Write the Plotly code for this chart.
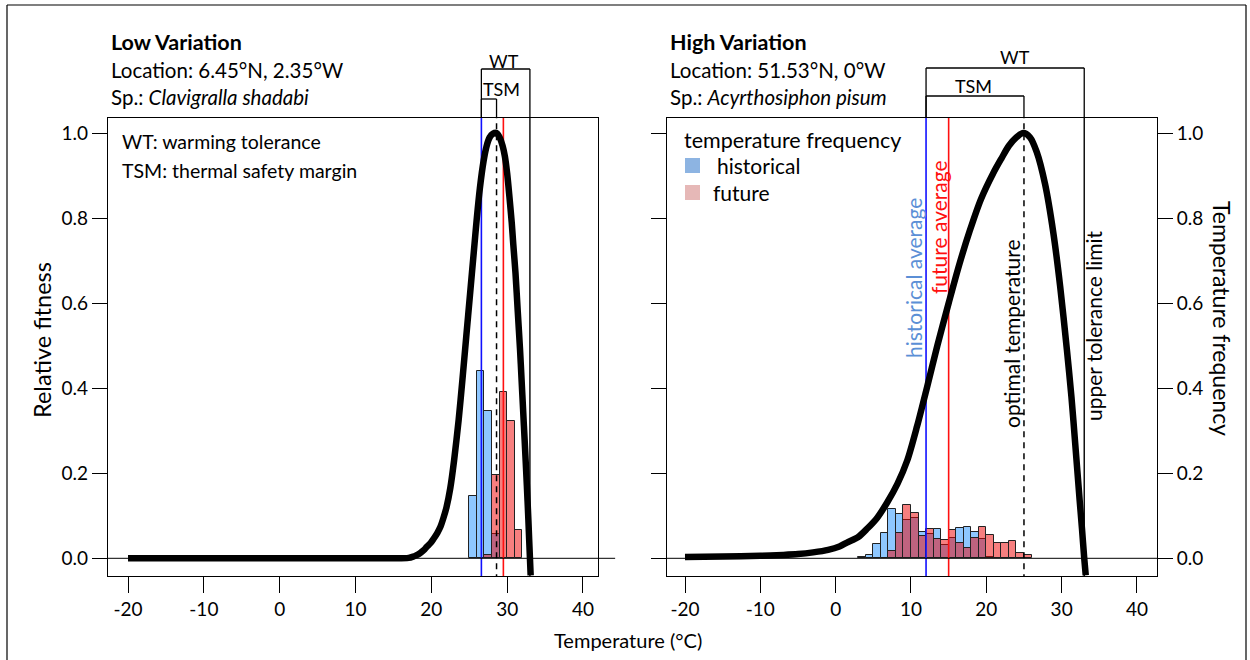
import plotly.graph_objects as go

W, H = 1250, 660

# ---------------- data ----------------
x_ticks = [-20, -10, 0, 10, 20, 30, 40]
x_tick_text = ["-20", "-10", "0", "10", "20", "30", "40"]
y_ticks = [0.0, 0.2, 0.4, 0.6, 0.8, 1.0]
y_tick_text = ["0.0", "0.2", "0.4", "0.6", "0.8", "1.0"]

# Low variation panel (Clavigralla shadabi)
low_curve_t = [-20, -10, 0, 10, 15, 17.0, 17.6, 18.0, 18.5, 19.0, 19.4, 19.9, 20.3, 20.8, 21.2,
               21.6, 22.0, 22.5, 23.0, 23.6, 24.1, 24.6, 25.1, 25.6, 26.0, 26.4, 26.9, 27.3,
               27.7, 28.1, 28.6, 29.0, 29.4, 29.7, 30.0, 30.3, 30.6, 30.8, 31.1, 31.4, 31.7,
               31.9, 32.1, 32.3, 32.6, 32.8, 32.9, 33.1]
low_curve_fit = [0.0, 0.0, 0.0, 0.0, 0.0, 0.001, 0.004, 0.007, 0.012, 0.019, 0.027, 0.036, 0.046,
                 0.06, 0.074, 0.095, 0.12, 0.165, 0.23, 0.325, 0.42, 0.52, 0.62, 0.72, 0.80,
                 0.87, 0.935, 0.97, 0.99, 0.998, 1.0, 0.99, 0.97, 0.945, 0.905, 0.85, 0.79,
                 0.74, 0.67, 0.58, 0.49, 0.42, 0.35, 0.28, 0.17, 0.09, 0.045, -0.04]
low_bin_left = [25, 26, 27, 28, 29, 30, 31]
low_hist = [0.146, 0.44, 0.346, 0.056, 0.0, 0.0, 0.0]
low_fut = [0.0, 0.0, 0.008, 0.196, 0.392, 0.324, 0.067]
low_hist_avg = 26.6
low_fut_avg = 29.5
low_topt = 28.6
low_ctmax = 33.0

# High variation panel (Acyrthosiphon pisum)
high_curve_t = [-20, -15, -10, -7, -5, -3, -1, 0.5, 1.5, 3.0, 4.2, 5.5, 6.8, 8.2, 9.5, 10.8,
                12.1, 13.5, 15.0, 16.4, 17.8, 19.3, 20.9, 22.0, 23.0, 24.0, 24.9, 25.8, 26.7,
                27.8, 28.9, 29.8, 30.7, 31.3, 31.8, 32.4, 32.7, 33.0, 33.2]
high_curve_fit = [0.003, 0.004, 0.006, 0.008, 0.010, 0.014, 0.02, 0.028, 0.037, 0.05, 0.07,
                  0.095, 0.13, 0.175, 0.23, 0.31, 0.40, 0.50, 0.60, 0.69, 0.77, 0.845, 0.905,
                  0.94, 0.97, 0.99, 1.0, 0.99, 0.955, 0.88, 0.765, 0.64, 0.49, 0.38, 0.27,
                  0.135, 0.07, 0.0, -0.04]
high_bin_left = [3, 4, 5, 6, 7, 8, 9, 10, 11, 12, 13, 14, 15, 16, 17, 18, 19, 20, 21, 22, 23, 24, 25]
high_hist = [0.004, 0.008, 0.033, 0.06, 0.116, 0.104, 0.09, 0.095, 0.062, 0.057, 0.07, 0.031,
             0.047, 0.072, 0.074, 0.061, 0.045, 0.004, 0.0, 0.0, 0.0, 0.0, 0.0]
high_fut = [0.0, 0.0, 0.0, 0.0, 0.017, 0.06, 0.126, 0.107, 0.052, 0.068, 0.045, 0.044, 0.067,
            0.035, 0.024, 0.048, 0.073, 0.055, 0.036, 0.037, 0.041, 0.013, 0.008]
high_hist_avg = 12.0
high_fut_avg = 15.0
high_topt = 25.0
high_ctmax = 33.0

# ---------------- styling ----------------
FONT = "Lato"
BLUE_BAR = "rgba(30,144,255,0.5)"
RED_BAR = "rgba(240,0,0,0.5)"
Y_RANGE = [-0.0416, 1.0353]


def px(x):
    return x / W


def py(y):
    return 1 - y / H


fig = go.Figure()


def add_panel(xa, ya, curve_t, curve_f, bins, hist, fut, h_avg, f_avg, topt, ctmax):
    y0, y1 = Y_RANGE[0] - 0.01, Y_RANGE[1] + 0.01
    fig.add_trace(go.Scatter(x=[h_avg, h_avg], y=[y0, y1], mode="lines",
                             line=dict(color="#1010ff", width=1.6), xaxis=xa, yaxis=ya,
                             hoverinfo="skip", showlegend=False))
    fig.add_trace(go.Scatter(x=[f_avg, f_avg], y=[y0, y1], mode="lines",
                             line=dict(color="#ff1010", width=1.6), xaxis=xa, yaxis=ya,
                             hoverinfo="skip", showlegend=False))
    fig.add_trace(go.Scatter(x=[topt, topt], y=[y0, y1], mode="lines",
                             line=dict(color="black", width=1.5, dash="6px,5px"), xaxis=xa, yaxis=ya,
                             hoverinfo="skip", showlegend=False))
    fig.add_trace(go.Scatter(x=[ctmax, ctmax], y=[y0, y1], mode="lines",
                             line=dict(color="black", width=1.4), xaxis=xa, yaxis=ya,
                             hoverinfo="skip", showlegend=False))
    hx = [b + 0.5 for b, v in zip(bins, hist) if v > 0]
    hy = [v for v in hist if v > 0]
    fx = [b + 0.5 for b, v in zip(bins, fut) if v > 0]
    fy = [v for v in fut if v > 0]
    fig.add_trace(go.Bar(x=hx, y=hy, width=1.0, marker=dict(color=BLUE_BAR,
                         line=dict(color="#222", width=1)), xaxis=xa, yaxis=ya,
                         hoverinfo="skip", showlegend=False))
    fig.add_trace(go.Bar(x=fx, y=fy, width=1.0, marker=dict(color=RED_BAR,
                         line=dict(color="#222", width=1)), xaxis=xa, yaxis=ya,
                         hoverinfo="skip", showlegend=False))
    fig.add_trace(go.Scatter(x=curve_t, y=curve_f, mode="lines", line_shape="spline",
                             line=dict(color="black", width=6.5, smoothing=0.8),
                             xaxis=xa, yaxis=ya, hoverinfo="skip", showlegend=False))


add_panel("x", "y", low_curve_t, low_curve_fit, low_bin_left, low_hist, low_fut,
          low_hist_avg, low_fut_avg, low_topt, low_ctmax)
add_panel("x2", "y2", high_curve_t, high_curve_fit, high_bin_left, high_hist, high_fut,
          high_hist_avg, high_fut_avg, high_topt, high_ctmax)
fig.add_trace(go.Scatter(x=[0], y=[0], mode="markers", opacity=0, xaxis="x2", yaxis="y3",
                         hoverinfo="skip", showlegend=False))

shapes = []
shapes.append(dict(type="line", xref="x domain", yref="y", x0=0, x1=1.035, y0=0, y1=0,
                   line=dict(color="black", width=1)))
shapes.append(dict(type="line", xref="x2 domain", yref="y2", x0=0, x1=1, y0=0, y1=0,
                   line=dict(color="black", width=1)))

box_top = py(118)


def bracket(xref, xa, xb, ytop):
    return [
        dict(type="line", xref=xref, yref="paper", x0=xa, x1=xa, y0=box_top, y1=ytop,
             line=dict(color="black", width=1.3)),
        dict(type="line", xref=xref, yref="paper", x0=xa, x1=xb, y0=ytop, y1=ytop,
             line=dict(color="black", width=1.3)),
        dict(type="line", xref=xref, yref="paper", x0=xb, x1=xb, y0=box_top, y1=ytop,
             line=dict(color="black", width=1.3)),
    ]


shapes += bracket("x", low_hist_avg, low_ctmax, py(69))
shapes += bracket("x", low_hist_avg, low_topt, py(99))
shapes += bracket("x2", high_hist_avg, high_ctmax, py(68))
shapes += bracket("x2", high_hist_avg, high_topt, py(96))

shapes.append(dict(type="rect", xref="paper", yref="paper", x0=px(685), x1=px(700),
                   y0=py(173), y1=py(158), fillcolor="#8db4e2", line=dict(width=0)))
shapes.append(dict(type="rect", xref="paper", yref="paper", x0=px(685), x1=px(700),
                   y0=py(200), y1=py(185), fillcolor="#e6b8b7", line=dict(width=0)))
shapes.append(dict(type="line", xref="paper", yref="paper", x0=px(7), x1=px(7), y0=py(5), y1=0,
                   line=dict(color="black", width=1.2)))
shapes.append(dict(type="line", xref="paper", yref="paper", x0=px(7), x1=px(1246), y0=py(5), y1=py(5),
                   line=dict(color="black", width=1.2)))
shapes.append(dict(type="line", xref="paper", yref="paper", x0=px(1246), x1=px(1246), y0=py(5), y1=0,
                   line=dict(color="black", width=1.2)))

ann = []


def text(x, y, s, size=18, anchor="left", color="black", angle=0):
    ann.append(dict(x=px(x), y=py(y), xref="paper", yref="paper", text=s, showarrow=False,
                    xanchor=anchor, yanchor="middle", textangle=angle,
                    font=dict(family=FONT, size=size, color=color)))


text(109, 42, "<b>Low Variation</b>", 21.5)
text(109, 70, "Location: 6.45°N, 2.35°W", 20.5)
text(109, 97, "Sp.: <i>Clavigralla shadabi</i>", 20.5)
text(120, 141, "WT: warming tolerance", 19.5)
text(120, 171, "TSM: thermal safety margin", 19.5)

text(668, 42, "<b>High Variation</b>", 21.5)
text(668, 70, "Location: 51.53°N, 0°W", 20.5)
text(668, 97, "Sp.: <i>Acyrthosiphon pisum</i>", 20.5)
text(682, 140, "temperature frequency", 21.5)
text(715, 165, "historical", 21)
text(711, 192, "future", 21)

text(504, 61, "WT", 18, "center")
text(501, 89, "TSM", 18, "center")
text(1015, 57, "WT", 18, "center")
text(973, 86, "TSM", 18, "center")

text(914, 278, "historical average", 21, "center", "#5b8fd6", -90)
text(938, 227, "future average", 21, "center", "#ff1010", -90)
text(1011, 334, "optimal temperature", 21, "center", "black", -90)
text(1093, 326, "upper tolerance limit", 21, "center", "black", -90)

text(42, 340, "Relative fitness", 23.5, "center", "black", -90)
text(1222, 318, "Temperature frequency", 23, "center", "black", 90)
text(628, 640, "Temperature (°C)", 20, "center")

axis_common = dict(showgrid=False, zeroline=False, showline=True, mirror=True,
                   linecolor="black", linewidth=1.2, ticks="outside", tickcolor="black",
                   tickwidth=1.2, tickfont=dict(family=FONT, size=19, color="black"))

ydom = [py(576), py(118)]
fig.update_layout(
    width=W, height=H, margin=dict(l=0, r=0, t=0, b=0),
    paper_bgcolor="white", plot_bgcolor="white", barmode="overlay", bargap=0,
    showlegend=False, shapes=shapes, annotations=ann,
    xaxis=dict(domain=[px(108), px(598)], range=[-22.64, 41.98], anchor="y",
               tickvals=x_ticks, ticktext=x_tick_text, ticklen=16, **axis_common),
    yaxis=dict(domain=ydom, range=Y_RANGE, anchor="x", tickvals=y_ticks, ticktext=y_tick_text,
               ticklen=15, **axis_common),
    xaxis2=dict(domain=[px(667), px(1157)], range=[-22.39, 42.66], anchor="y2",
                tickvals=x_ticks, ticktext=x_tick_text, ticklen=16, **axis_common),
    yaxis2=dict(domain=ydom, range=Y_RANGE, anchor="x2", tickvals=y_ticks, showticklabels=False,
                ticklen=15, **axis_common),
    yaxis3=dict(range=Y_RANGE, anchor="x2", overlaying="y2", side="right", tickvals=y_ticks,
                ticktext=y_tick_text, ticklen=15, showgrid=False, zeroline=False, showline=False,
                ticks="outside", tickcolor="black", tickwidth=1.2,
                tickfont=dict(family=FONT, size=19, color="black")),
)

fig.write_html("out.html", config={"displayModeBar": False},
               post_script="document.body.style.margin='0';")
